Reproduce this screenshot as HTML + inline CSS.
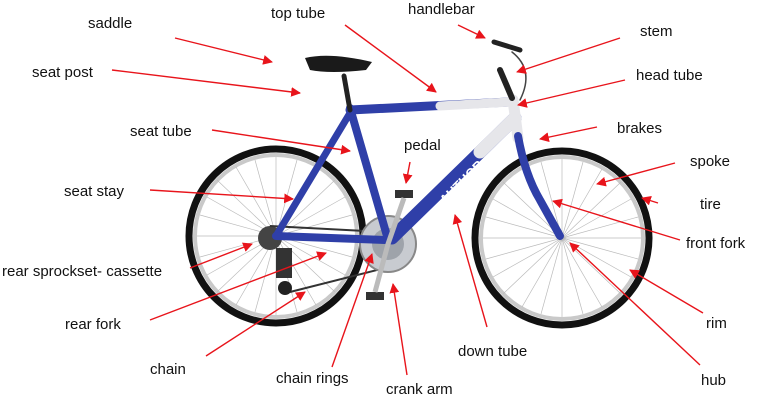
<!DOCTYPE html>
<html><head><meta charset="utf-8"><style>
html,body{margin:0;padding:0;background:#fff;width:761px;height:403px;overflow:hidden}
svg text{font-family:"Liberation Sans",Arial,sans-serif;font-size:15px;fill:#111}
</style></head><body>
<svg width="761" height="403" viewBox="0 0 761 403" xmlns="http://www.w3.org/2000/svg">
<defs>
<marker id="a" viewBox="0 0 10 10" refX="9" refY="5" markerWidth="7" markerHeight="7" orient="auto-start-reverse"><path d="M0,0L10,5L0,10z" fill="#e8141b"/></marker>
<pattern id="sp" width="1" height="1"></pattern>
</defs>
<!-- wheels -->
<g fill="none">
<circle cx="276" cy="236" r="87" stroke="#111" stroke-width="7"/>
<circle cx="276" cy="236" r="81" stroke="#c9c9c9" stroke-width="4"/>
<circle cx="562" cy="238" r="87" stroke="#111" stroke-width="7"/>
<circle cx="562" cy="238" r="81" stroke="#c9c9c9" stroke-width="4"/>
<g stroke="#bbb" stroke-width="0.7">
<path d="M276,236L276,157M276,236L316,167M276,236L345,197M276,236L355,236M276,236L345,275M276,236L316,305M276,236L276,315M276,236L236,305M276,236L207,275M276,236L197,236M276,236L207,197M276,236L236,167M276,236L297,160M276,236L335,180M276,236L352,215M276,236L352,257M276,236L335,292M276,236L297,312M276,236L255,312M276,236L217,292M276,236L200,257M276,236L200,215M276,236L217,180M276,236L255,160"/>
<path d="M562,238L562,159M562,238L602,169M562,238L631,199M562,238L641,238M562,238L631,277M562,238L602,307M562,238L562,317M562,238L522,307M562,238L493,277M562,238L483,238M562,238L493,199M562,238L522,169M562,238L583,162M562,238L621,182M562,238L638,217M562,238L638,259M562,238L621,294M562,238L583,314M562,238L541,314M562,238L503,294M562,238L486,259M562,238L486,217M562,238L503,182M562,238L541,162"/>
</g>
</g>
<!-- drivetrain -->
<circle cx="270" cy="238" r="12" fill="#444"/>
<path d="M270,226 L385,232 M290,292 L385,268" stroke="#333" stroke-width="2" fill="none"/>
<rect x="276" y="248" width="16" height="30" fill="#333"/>
<circle cx="285" cy="288" r="7" fill="#222"/>
<circle cx="388" cy="244" r="28" fill="#c8cbd0" stroke="#888" stroke-width="2"/>
<circle cx="388" cy="244" r="16" fill="#9ea3aa"/>
<!-- frame -->
<g stroke-linecap="round" fill="none">
<path d="M276,236 L350,113" stroke="#2f3fa8" stroke-width="7"/>
<path d="M276,236 L385,240" stroke="#2f3fa8" stroke-width="8"/>
<path d="M350,108 L387,236" stroke="#2f3fa8" stroke-width="8"/>
<path d="M350,110 L510,102" stroke="#2f3fa8" stroke-width="9"/>
<path d="M440,106 L510,102" stroke="#e6e6ea" stroke-width="9"/>
<path d="M515,118 L392,238" stroke="#2f3fa8" stroke-width="13"/>
<path d="M515,118 L480,152" stroke="#e6e6ea" stroke-width="13"/>
<path d="M513,100 L518,138" stroke="#e6e6ea" stroke-width="11"/>
<path d="M518,136 Q525,175 540,200 L560,236" stroke="#2f3fa8" stroke-width="8"/>
<path d="M344,76 L350,110" stroke="#222" stroke-width="5"/>
<path d="M512,98 L500,70" stroke="#222" stroke-width="6"/>
<path d="M494,42 L520,50" stroke="#222" stroke-width="5"/>
<path d="M512,52 Q535,70 520,100" stroke="#444" stroke-width="1.5"/>
</g>
<text x="445" y="205" transform="rotate(-45 445 205)" style="font-size:13px;font-weight:bold;fill:#fff">AUTHOR</text>
<path d="M305,58 Q330,52 372,62 L366,70 Q330,74 310,70z" fill="#1a1a1a"/>
<path d="M395,190 h18 v8 h-18z M366,292 h18 v8 h-18z" fill="#333"/>
<path d="M404,198 L388,244 L375,292" stroke="#bbb" stroke-width="5" fill="none"/>
<!-- arrows -->
<g stroke="#e8141b" stroke-width="1.4" marker-end="url(#a)">
<line x1="175" y1="38" x2="272" y2="62"/>
<line x1="345" y1="25" x2="436" y2="92"/>
<line x1="458" y1="25" x2="485" y2="38"/>
<line x1="620" y1="38" x2="517" y2="72"/>
<line x1="112" y1="70" x2="300" y2="93"/>
<line x1="625" y1="80" x2="518" y2="105"/>
<line x1="212" y1="130" x2="350" y2="151"/>
<line x1="410" y1="162" x2="406" y2="183"/>
<line x1="597" y1="127" x2="540" y2="139"/>
<line x1="675" y1="163" x2="597" y2="184"/>
<line x1="658" y1="203" x2="642" y2="198"/>
<line x1="150" y1="190" x2="293" y2="199"/>
<line x1="680" y1="240" x2="553" y2="201"/>
<line x1="190" y1="268" x2="252" y2="244"/>
<line x1="150" y1="320" x2="326" y2="253"/>
<line x1="703" y1="313" x2="630" y2="270"/>
<line x1="487" y1="327" x2="455" y2="215"/>
<line x1="206" y1="356" x2="305" y2="292"/>
<line x1="332" y1="367" x2="372" y2="254"/>
<line x1="407" y1="375" x2="393" y2="284"/>
<line x1="700" y1="365" x2="570" y2="243"/>
</g>
<!-- labels -->
<text x="88" y="28">saddle</text>
<text x="271" y="18">top tube</text>
<text x="408" y="14">handlebar</text>
<text x="640" y="36">stem</text>
<text x="32" y="77">seat post</text>
<text x="636" y="80">head tube</text>
<text x="130" y="136">seat tube</text>
<text x="404" y="150">pedal</text>
<text x="617" y="133">brakes</text>
<text x="690" y="166">spoke</text>
<text x="64" y="196">seat stay</text>
<text x="700" y="209">tire</text>
<text x="686" y="248">front fork</text>
<text x="2" y="276">rear sprockset- cassette</text>
<text x="65" y="329">rear fork</text>
<text x="706" y="328">rim</text>
<text x="458" y="356">down tube</text>
<text x="150" y="374">chain</text>
<text x="276" y="383">chain rings</text>
<text x="386" y="394">crank arm</text>
<text x="701" y="385">hub</text>
</svg>
</body></html>
